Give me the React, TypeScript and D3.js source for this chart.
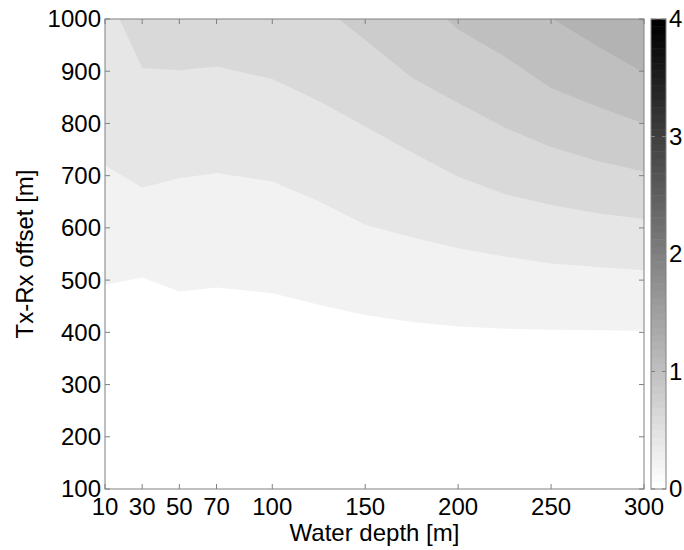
import React from "react";
import * as d3 from "d3";

// Water depth grid [m]
const depths = [10, 30, 50, 70, 100, 125, 150, 175, 200, 225, 250, 275, 300];
// Tx-Rx offset [m] of each filled-contour boundary (null = above plot)
const contour02 = [491, 505, 478, 486, 475, 453, 433, 420, 411, 407, 405, 404, 403];
const contour04 = [720, 677, 695, 705, 689, 651, 606, 582, 561, 545, 532, 525, 519];
const contour06 = [1060, 906, 902, 909, 885, 843, 794, 745, 698, 665, 644, 628, 617];
const contour08 = [null, null, null, null, null, 1030, 960, 888, 839, 792, 755, 728, 708];
const contour10 = [null, null, null, null, null, null, null, 1060, 980, 928, 868, 832, 800];
const contour12 = [null, null, null, null, null, null, null, null, null, null, 1002, 948, 897];
const contour14 = [null, null, null, null, null, null, null, null, null, null, null, 1044, 994];
const contourLevels = [0.2, 0.4, 0.6, 0.8, 1.0, 1.2, 1.4];
const contourLines = [contour02, contour04, contour06, contour08, contour10, contour12, contour14];

const xTicks = [10, 30, 50, 70, 100, 150, 200, 250, 300];
const yTicks = [100, 200, 300, 400, 500, 600, 700, 800, 900, 1000];
const cbTicks = [0, 1, 2, 3, 4];

const W = 684;
const H = 550;
const M = { left: 105, right: 644, top: 19, bottom: 489 };
const CB = { left: 651, right: 666 };
const FONT = "'Liberation Sans', Arial, Helvetica, sans-serif";
const FS = 24;
const AXIS = "#808080";

export default function App() {
  const x = d3.scaleLinear().domain([10, 300]).range([M.left, M.right]);
  const y = d3.scaleLinear().domain([100, 1000]).range([M.bottom, M.top]);
  const cy = d3.scaleLinear().domain([0, 4]).range([M.bottom, M.top]);
  const gray = d3.scaleLinear<string>().domain([0, 4]).range(["#ffffff", "#000000"]);

  const area = d3
    .area<{ d: number; v: number | null }>()
    .defined((p) => p.v != null)
    .x((p) => x(p.d))
    .y0((p) => y(p.v as number))
    .y1(() => y(1150));

  const nCmap = 64;
  const cmapSteps = d3.range(nCmap);
  const step = (M.bottom - M.top) / nCmap;
  const tl = 5;

  return (
    <svg
      width={W}
      height={H}
      style={{ position: "absolute", left: 0, top: 0, background: "#fff" }}
      fontFamily={FONT}
    >
      <defs>
        <clipPath id="plotclip">
          <rect x={M.left} y={M.top} width={M.right - M.left} height={M.bottom - M.top} />
        </clipPath>
      </defs>
      <rect x={M.left} y={M.top} width={M.right - M.left} height={M.bottom - M.top} fill={gray(0)} />
      <g clipPath="url(#plotclip)">
        {contourLines.map((line, i) => (
          <path
            key={i}
            d={area(depths.map((d, j) => ({ d, v: line[j] }))) || ""}
            fill={gray(contourLevels[i])}
            stroke="none"
          />
        ))}
      </g>
      {/* frame */}
      <rect
        x={M.left}
        y={M.top}
        width={M.right - M.left}
        height={M.bottom - M.top}
        fill="none"
        stroke={AXIS}
        strokeWidth={1}
      />
      {xTicks.map((t) => (
        <g key={"x" + t}>
          <line x1={x(t)} x2={x(t)} y1={M.bottom} y2={M.bottom - tl} stroke={AXIS} />
          <line x1={x(t)} x2={x(t)} y1={M.top} y2={M.top + tl} stroke={AXIS} />
          <text x={x(t)} y={515} textAnchor="middle" fontSize={FS} fill="#000">
            {t}
          </text>
        </g>
      ))}
      {yTicks.map((t) => (
        <g key={"y" + t}>
          <line x1={M.left} x2={M.left + tl} y1={y(t)} y2={y(t)} stroke={AXIS} />
          <line x1={M.right} x2={M.right - tl} y1={y(t)} y2={y(t)} stroke={AXIS} />
          <text x={101} y={y(t)} dy="0.35em" textAnchor="end" fontSize={FS} fill="#000">
            {t}
          </text>
        </g>
      ))}
      <text x={(M.left + M.right) / 2} y={541} textAnchor="middle" fontSize={FS} fill="#000">
        Water depth [m]
      </text>
      <text
        transform={`translate(33, ${(M.top + M.bottom) / 2}) rotate(-90)`}
        textAnchor="middle"
        fontSize={FS}
        fill="#000"
      >
        Tx-Rx offset [m]
      </text>
      {/* colorbar */}
      {cmapSteps.map((i) => (
        <rect
          key={"c" + i}
          x={CB.left}
          y={M.bottom - (i + 1) * step}
          width={CB.right - CB.left}
          height={step + 0.5}
          fill={gray((i / (nCmap - 1)) * 4)}
        />
      ))}
      <rect
        x={CB.left}
        y={M.top}
        width={CB.right - CB.left}
        height={M.bottom - M.top}
        fill="none"
        stroke={AXIS}
      />
      {cbTicks.map((t) => (
        <g key={"cb" + t}>
          <line x1={CB.left} x2={CB.left + 4} y1={cy(t)} y2={cy(t)} stroke={AXIS} />
          <line x1={CB.right} x2={CB.right - 4} y1={cy(t)} y2={cy(t)} stroke={AXIS} />
          <text x={669} y={cy(t)} dy="0.35em" textAnchor="start" fontSize={FS} fill="#000">
            {t}
          </text>
        </g>
      ))}
    </svg>
  );
}
